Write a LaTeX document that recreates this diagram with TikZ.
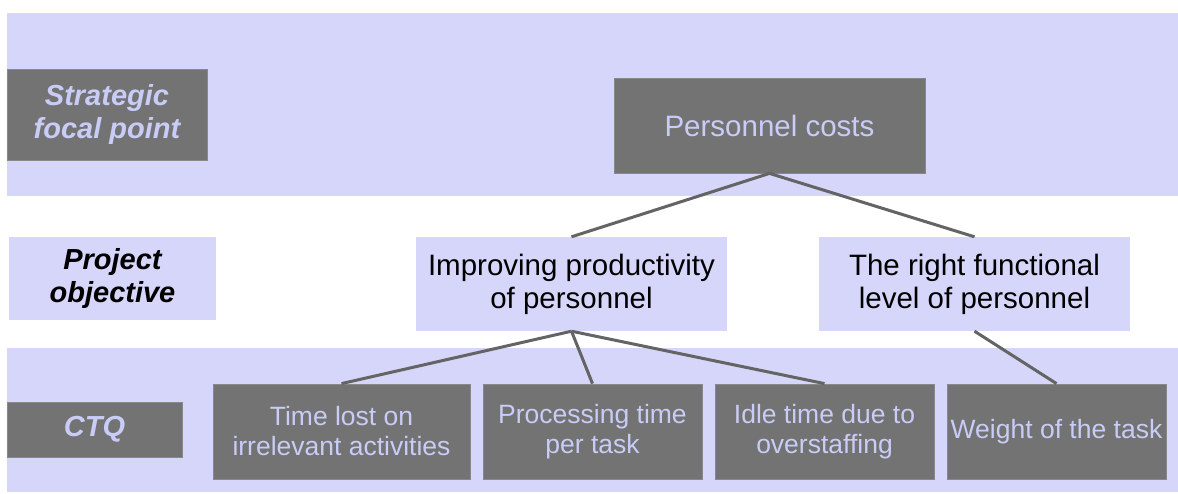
\documentclass[tikz,border=0pt]{standalone}
\usepackage{fontspec}
\setmainfont{Liberation Sans}
\usepackage{xcolor}

\definecolor{bandblue}{RGB}{214,214,250}
\definecolor{boxgrey}{RGB}{115,115,115}
\definecolor{paletext}{RGB}{200,204,246}
\definecolor{linegrey}{RGB}{100,100,100}

\tikzset{
	band/.style		= {fill=bandblue, inner sep=0pt},
	darkbox/.style	= {fill=boxgrey, draw=boxgrey!85!white, line width=0.8pt,
		text=paletext, align=center, inner sep=0pt},
	lightbox/.style	= {fill=bandblue, text=black, align=center, inner sep=0pt},
	rowname/.style	= {font=\fontsize{29}{33}\selectfont\bfseries\itshape},
	link/.style		= {draw=linegrey, line width=3pt}
}

\begin{document}
\begin{tikzpicture}[x=1pt,y=-1pt]
	\useasboundingbox (0,0) rectangle (1178,493);
	
	% background bands
	\node[band, minimum width=1171pt, minimum height=183pt] (topband) at (592.5,104.5) {};
	\node[band, minimum width=1171pt, minimum height=144pt] (ctqband) at (592.5,420) {};
	
	% row names
	\node[darkbox, rowname, minimum width=200pt, minimum height=91pt] (strategic) at (107,114.5) {Strategic\\focal point};
	\node[lightbox, rowname, minimum width=207pt, minimum height=83pt] (project) at (112.5,278.5) {Project\\objective};
	\node[darkbox, rowname, minimum width=175pt, minimum height=55pt] (ctq) at (94.5,429.5) {CTQ};
	
	% tree
	\node[darkbox, font=\fontsize{29.5}{33}\selectfont, minimum width=311pt, minimum height=95pt] (cost) at (769.5,125.5) {Personnel costs};
	
	\node[lightbox, font=\fontsize{29.5}{33}\selectfont, minimum width=311pt, minimum height=94pt] (improve) at (571.5,284) {Improving productivity\\of personnel};
	\node[lightbox, font=\fontsize{29.5}{33}\selectfont, minimum width=311pt, minimum height=94pt] (level) at (974.5,284) {The right functional\\level of personnel};
	
	\begin{scope}[every node/.style={darkbox, font=\fontsize{26.5}{30}\selectfont, minimum height=95pt}]
	\node[minimum width=257pt] (lost) at (341.5,431.5) {Time lost on\\irrelevant activities};
	\node[minimum width=219pt] (proc) at (592.5,431.5) {Processing time\\per task};
	\node[minimum width=219pt] (idle) at (824.5,431.5) {Idle time due to\\overstaffing};
	\node[minimum width=219pt] (weight) at (1056.5,431.5) {Weight of the task};
	\end{scope}
	
	\path[link]
	(cost.south) edge (improve.north)
	(cost.south) edge (level.north)
	(improve.south) edge (lost.north)
	(improve.south) edge (proc.north)
	(improve.south) edge (idle.north)
	(level.south) edge (weight.north);
	
\end{tikzpicture}
\end{document}
